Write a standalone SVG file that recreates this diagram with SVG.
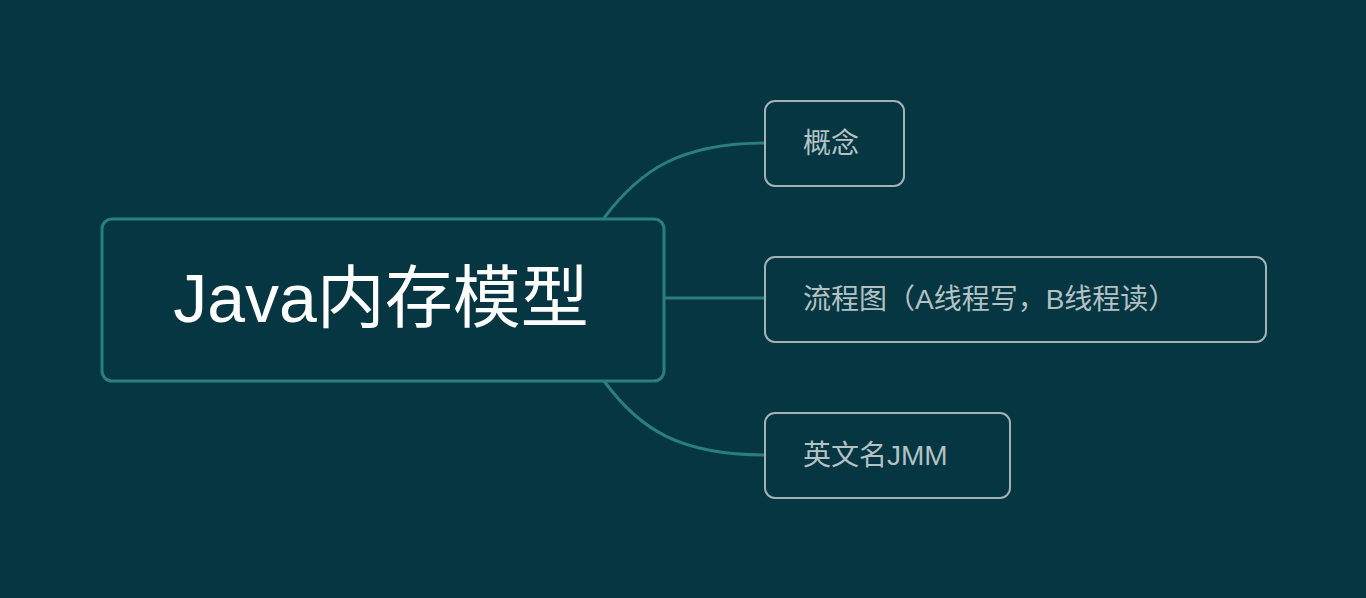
<svg xmlns="http://www.w3.org/2000/svg" width="1366" height="598" viewBox="0 0 1366 598">
<style>
.c{fill:none;stroke:#2a7f7d;stroke-width:3}
.n{fill:#053642;stroke:#a3b3b5;stroke-width:2}
.t{font-family:"Liberation Sans","Noto Sans CJK SC",sans-serif;font-size:28px;fill:#b4c2c4}
</style>
<rect width="1366" height="598" fill="#053642"/>
<g id="connectors">
<path class="c" d="M604,218 C640,170 680,143 766,143"/>
<path class="c" d="M664,298 L766,298"/>
<path class="c" d="M604,381 C640,430 680,455 766,455"/>
</g>
<g id="root">
<rect x="102" y="219" width="562" height="162" rx="10" fill="#053642" stroke="#2a7f7d" stroke-width="3"/>
<text x="381" y="322" text-anchor="middle" font-family="Liberation Sans,Noto Sans CJK SC,sans-serif" font-size="68" fill="#ffffff">Java内存模型</text>
</g>
<g id="n1">
<rect class="n" x="765" y="101" width="139" height="85" rx="10"/>
<text class="t" x="803" y="153">概念</text>
</g>
<g id="n2">
<rect class="n" x="765" y="257" width="501" height="85" rx="10"/>
<text class="t" x="803" y="309">流程图（A线程写，B线程读）</text>
</g>
<g id="n3">
<rect class="n" x="765" y="413" width="245" height="85" rx="10"/>
<text class="t" x="803" y="465">英文名JMM</text>
</g>
</svg>
